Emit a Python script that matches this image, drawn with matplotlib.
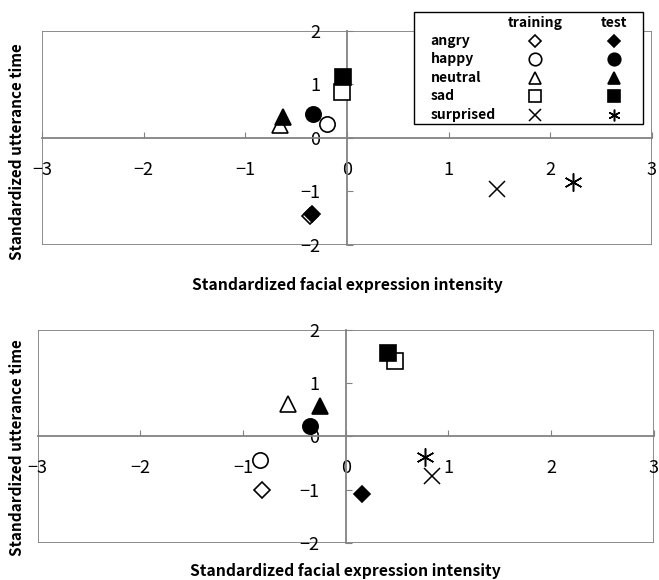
import numpy as np
import matplotlib
matplotlib.use("Agg")
import matplotlib.pyplot as plt
from matplotlib.patches import Rectangle

plt.rcParams['font.family'] = ['Noto Sans CJK JP', 'DejaVu Sans']

emotions = ['angry', 'happy', 'neutral', 'sad', 'surprised']

# upper panel
top_train_x = [-0.36, -0.20, -0.66, -0.05, 1.48]
top_train_y = [-1.45, 0.27, 0.25, 0.86, -0.95]
top_test_x = [-0.345, -0.33, -0.63, -0.04, 2.22]
top_test_y = [-1.42, 0.44, 0.39, 1.14, -0.83]

# lower panel
bot_train_x = [-0.82, -0.84, -0.56, 0.48, 0.84]
bot_train_y = [-1.00, -0.45, 0.60, 1.41, -0.75]
bot_test_x = [0.16, -0.35, -0.25, 0.41, 0.775]
bot_test_y = [-1.09, 0.19, 0.58, 1.56, -0.39]

xticks = [-3, -2, -1, 0, 1, 2, 3]
yticks = [-2, -1, 0, 1, 2]
xlabel = 'Standardized facial expression intensity'
ylabel = 'Standardized utterance time'

# marker styles: (marker, size) for training (open) and test (filled)
train_style = [('D', 8), ('o', 11), ('^', 11), ('s', 11), ('x', 11)]
test_style = [('D', 8), ('o', 11), ('^', 11), ('s', 11), ((6, 2, 0), 13)]
gray = '#828282'


def draw_point(ax, x, y, style, filled, z, **kw):
    m, ms = style
    if m in ('x',) or isinstance(m, tuple):
        ax.plot(x, y, marker=m, ms=ms, ls='none', color='black', mew=1.1, zorder=z, **kw)
    else:
        ax.plot(x, y, marker=m, ms=ms, ls='none', mfc='black' if filled else 'white',
                mec='black', mew=1.2, zorder=z, **kw)


def setup(ax, xl_y, yl_x, yl_y):
    ax.set_xlim(-3, 3)
    ax.set_ylim(-2, 2)
    ax.spines['left'].set_position(('data', 0))
    ax.spines['bottom'].set_position(('data', 0))
    ax.spines['top'].set_visible(False)
    ax.spines['right'].set_visible(False)
    for s in ('left', 'bottom'):
        ax.spines[s].set_color(gray)
        ax.spines[s].set_linewidth(1.3)
    ax.add_patch(Rectangle((0, 0), 1, 1, transform=ax.transAxes, fill=False,
                           ec=gray, lw=1.3, zorder=1))
    ax.set_xticks(xticks)
    ax.set_yticks(yticks)
    ax.tick_params(axis='x', direction='in', length=4, color=gray, pad=16.5, labelsize=13)
    ax.tick_params(axis='y', direction='in', length=4, color=gray, pad=19, labelsize=13)
    ax.set_xlabel(xlabel, fontsize=11.3, fontweight='bold')
    ax.set_ylabel(ylabel, fontsize=11, fontweight='bold')
    ax.xaxis.set_label_coords(0.5, xl_y)
    ax.xaxis.label.set_va('center')
    ax.yaxis.set_label_coords(yl_x, yl_y)
    ax.yaxis.label.set_va('center')


fig = plt.figure(figsize=(6.59, 5.80), dpi=100)
ax1 = fig.add_axes([0.0637, 0.5776, 0.9256, 0.369])
ax2 = fig.add_axes([0.0572, 0.0643, 0.935, 0.3667])

setup(ax1, -0.187, -0.041, 0.435)
setup(ax2, -0.132, -0.034, 0.445)

for i in range(len(emotions)):
    # open circle sits above the filled one in the upper panel
    z_top = 5 if emotions[i] == 'happy' else 3
    draw_point(ax1, top_train_x[i], top_train_y[i], train_style[i], False, z_top)
    draw_point(ax1, top_test_x[i], top_test_y[i], test_style[i], True, 4)
    draw_point(ax2, bot_train_x[i], bot_train_y[i], train_style[i], False, 3)
    draw_point(ax2, bot_test_x[i], bot_test_y[i], test_style[i], True, 4)

# legend box in the upper panel
lx0, lx1, ly0, ly1 = 0.610, 0.985, 0.565, 1.090
ax1.add_patch(Rectangle((lx0, ly0), lx1 - lx0, ly1 - ly0, transform=ax1.transAxes,
                        fc='white', ec='black', lw=1.0, clip_on=False, zorder=10))
col_train, col_test, col_lab = 0.808, 0.938, 0.637
ax1.text(col_train, 1.039, 'training', transform=ax1.transAxes, ha='center', va='center',
         fontsize=10, fontweight='bold', zorder=11)
ax1.text(col_test, 1.039, 'test', transform=ax1.transAxes, ha='center', va='center',
         fontsize=10, fontweight='bold', zorder=11)
row_y = np.linspace(0.955, 0.607, len(emotions))
for i, name in enumerate(emotions):
    ax1.text(col_lab, row_y[i], name, transform=ax1.transAxes, ha='left', va='center',
             fontsize=10, fontweight='bold', zorder=11)
    m, ms = train_style[i]
    draw_point(ax1, col_train, row_y[i], (m, ms * 0.82), False, 12,
               transform=ax1.transAxes, clip_on=False)
    m, ms = test_style[i]
    draw_point(ax1, col_test, row_y[i], (m, ms * (0.65 if isinstance(m, tuple) else 0.82)), True, 12,
               transform=ax1.transAxes, clip_on=False)

fig.savefig('out.png', dpi=100)
